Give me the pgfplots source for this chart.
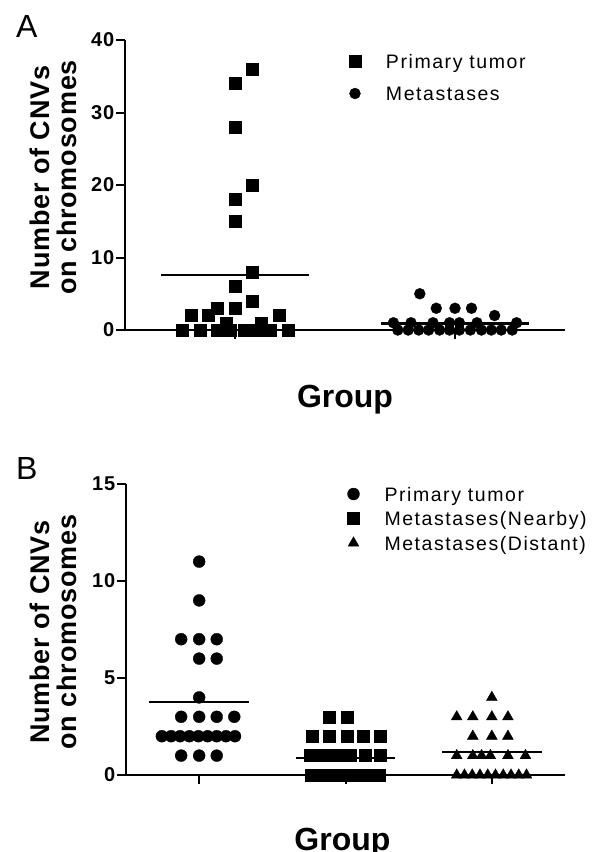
\documentclass[border=0pt]{standalone}
\usepackage{fontspec}
\setmainfont{Liberation Sans}
\newfontfamily\tickfont[LetterSpace=5]{Liberation Sans}
\newfontfamily\labfont[LetterSpace=3]{Liberation Sans}
\newfontfamily\legfont[LetterSpace=8]{Liberation Sans}
\usepackage{pgfplots}
\pgfplotsset{compat=1.18}

\pgfplotsset{
  cnv/.style={
    scale only axis, axis lines*=left, clip=false,
    axis line style={line width=2pt},
    tick style={line width=2pt, black},
    major tick length=9pt, tick align=outside,
    xticklabels={},
    ymin=0,
    /pgf/number format/assume math mode=true,
    yticklabel style={font=\tickfont\bfseries\fontsize{20}{20}\selectfont, inner xsep=1.5pt},
    ylabel={Number of CNVs\\on chromosomes},
    ylabel style={font=\labfont\bfseries\fontsize{27}{27}\selectfont, align=center, inner sep=0pt},
    xlabel={Group},
    xlabel style={font=\bfseries\fontsize{32}{32}\selectfont, inner sep=0pt, anchor=base},
    legend cell align=left,
    legend image code/.code={
      \path[draw=none, fill=none] (-7pt,-4pt) rectangle (31pt,14pt);
      \draw[##1] plot coordinates {(0pt,7pt)};
    },
  },
  meanline/.style={black, line width=2.4pt, forget plot},
  pts/.style={only marks, black, mark options={fill=black, draw=black, line width=0.3pt}},
}

\begin{document}
\begin{tikzpicture}

% ---- panel A ----
\begin{axis}[cnv,
  at={(125pt,-330pt)}, anchor=south west,
  width=440pt, height=290pt,
  xmin=0.5, xmax=2.5, xtick={1,2},
  ymax=40, ytick={0,10,20,30,40},
  ylabel style={at={(axis description cs:-0.1625,0.526)}, anchor=center, rotate=0},
  xlabel style={at={(axis description cs:0.5,-0.2655)}},
  legend style={at={(axis description cs:0.5068,0.95)}, anchor=north west,
    draw=none, fill=none, inner sep=0pt, outer sep=0pt,
    row sep=14pt, column sep=0pt,
    font=\legfont\fontsize{19.5}{23}\selectfont,
    cells={anchor=base west},
    nodes={inner sep=0pt, text height=14pt, text depth=4pt}},
]
\addplot[meanline] coordinates {(0.665,7.6) (1.335,7.6)};
\addplot[meanline] coordinates {(1.663,0.92) (2.337,0.92)};
\addplot[pts, mark=square*, mark size=6pt] coordinates {
  (1.08,36) (1.00,34) (1.00,28) (1.08,20) (1.00,18) (1.00,15)
  (1.08,8) (1.00,6) (1.08,4) (0.92,3) (1.00,3)
  (0.80,2) (0.88,2) (1.20,2) (0.96,1) (1.12,1)
  (0.76,0) (0.84,0) (0.92,0) (0.98,0) (1.04,0) (1.10,0) (1.16,0) (1.24,0)
};
\addplot[pts, mark=*, mark size=5.5pt] coordinates {
  (1.84,5) (1.915,3) (2.00,3) (2.075,3) (2.18,2)
  (1.72,1) (1.80,1) (1.90,1) (1.975,1) (2.02,1) (2.10,1) (2.28,1)
  (1.74,0) (1.787,0) (1.835,0) (1.88,0) (1.93,0) (1.975,0)
  (2.02,0) (2.07,0) (2.12,0) (2.165,0) (2.21,0) (2.26,0)
};
\legend{Primary tumor, Metastases}
\end{axis}

% ---- panel B ----
\begin{axis}[cnv,
  at={(126pt,-775pt)}, anchor=south west,
  width=439pt, height=291pt,
  xmin=0.5, xmax=3.5, xtick={1,2,3},
  ymax=15, ytick={0,5,10,15},
  ylabel style={at={(axis description cs:-0.165,0.491)}, anchor=center, rotate=0},
  xlabel style={at={(axis description cs:0.493,-0.258)}},
  legend style={at={(axis description cs:0.5023,0.9897)}, anchor=north west,
    draw=none, fill=none, inner sep=0pt, outer sep=0pt,
    row sep=6.5pt, column sep=0pt,
    font=\legfont\fontsize{19.5}{23}\selectfont,
    cells={anchor=base west},
    nodes={inner sep=0pt, text height=14pt, text depth=4pt}},
]
\addplot[meanline] coordinates {(0.66,3.75) (1.34,3.75)};
\addplot[meanline] coordinates {(1.66,0.89) (2.34,0.89)};
\addplot[meanline] coordinates {(2.66,1.2) (3.34,1.2)};
\addplot[pts, mark=*, mark size=6pt] coordinates {
  (1.00,11) (1.00,9)
  (0.877,7) (1.00,7) (1.12,7)
  (1.00,6) (1.12,6)
  (1.00,4)
  (0.877,3) (1.00,3) (1.12,3) (1.24,3)
  (0.745,2) (0.808,2) (0.87,2) (0.933,2) (0.995,2) (1.058,2) (1.12,2) (1.183,2) (1.245,2)
  (0.877,1) (1.00,1) (1.12,1)
};
\addplot[pts, mark=square*, mark size=6pt] coordinates {
  (1.89,3) (2.01,3)
  (1.77,2) (1.89,2) (2.01,2) (2.12,2) (2.24,2)
  (1.756,1) (1.84,1) (1.89,1) (1.95,1) (2.03,1) (2.137,1) (2.24,1)
  (1.768,0) (1.81,0) (1.852,0) (1.894,0) (1.936,0) (1.979,0)
  (2.021,0) (2.063,0) (2.105,0) (2.147,0) (2.19,0) (2.232,0)
};
\addplot[pts, mark=triangle*, mark size=6.3pt] coordinates {
  (3.00,4)
  (2.76,3) (2.87,3) (3.00,3) (3.11,3)
  (2.87,2) (3.00,2) (3.11,2)
  (2.76,1) (2.87,1) (2.93,1) (2.99,1) (3.11,1) (3.23,1)
  (2.76,0) (2.813,0) (2.866,0) (2.919,0) (2.972,0)
  (3.025,0) (3.078,0) (3.131,0) (3.184,0) (3.237,0)
};
\legend{Primary tumor, Metastases(Nearby), Metastases(Distant)}
\end{axis}

\node[anchor=base west, inner sep=0pt, font=\fontsize{32}{32}\selectfont] at (16pt,-37pt) {A};
\node[anchor=base west, inner sep=0pt, font=\fontsize{32}{32}\selectfont] at (16pt,-479pt) {B};

\pgfresetboundingbox
\path[use as bounding box] (0pt,0pt) rectangle (610pt,-852pt);
\end{tikzpicture}
\end{document}
